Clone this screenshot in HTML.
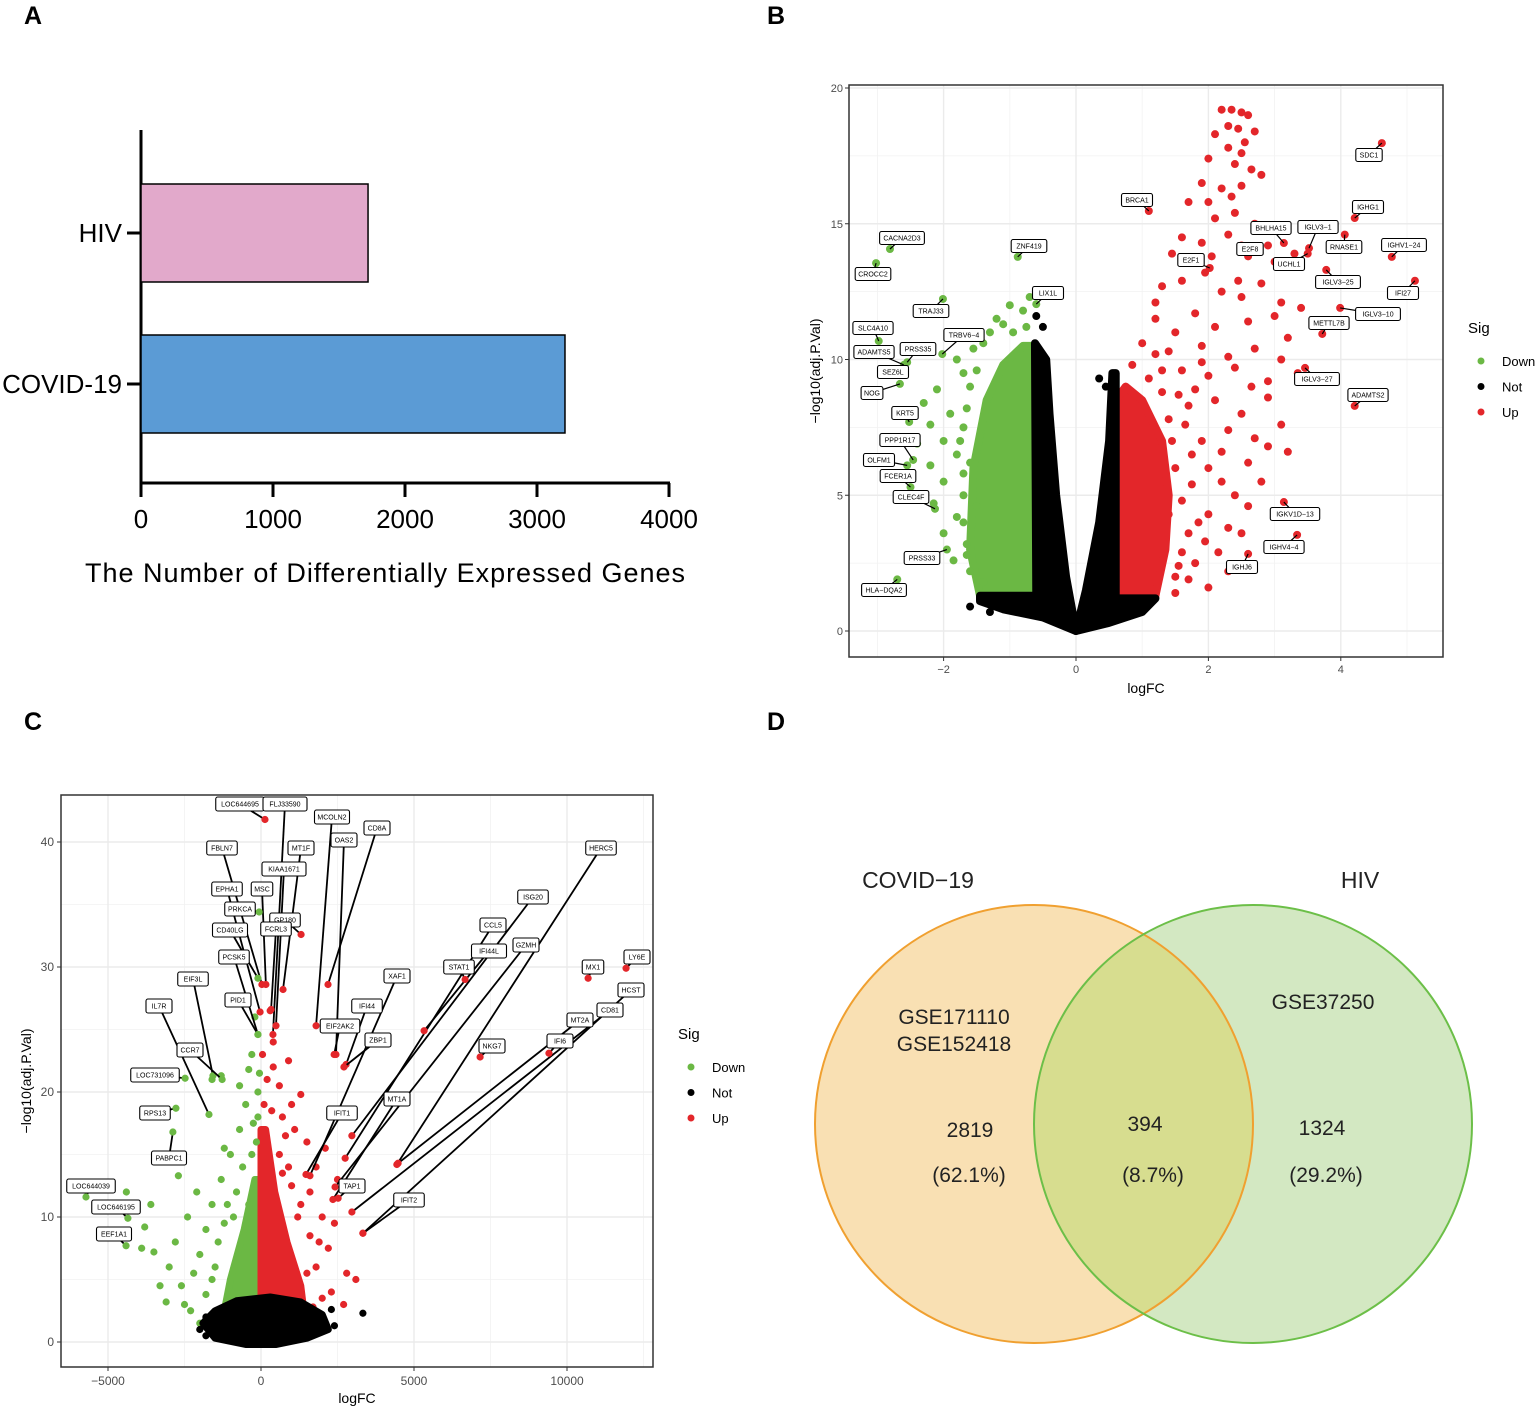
<!DOCTYPE html>
<html><head><meta charset="utf-8"><style>
html,body{margin:0;padding:0;background:#fff;}
svg{display:block;font-family:"Liberation Sans",Arial,sans-serif;}
</style></head><body>
<svg id="fig" width="1535" height="1407" viewBox="0 0 1535 1407" xmlns="http://www.w3.org/2000/svg">
<g font-weight="bold" font-size="25">
<text x="24" y="24">A</text>
<text x="767" y="24">B</text>
<text x="24" y="730">C</text>
<text x="767" y="730">D</text>
</g>
<g id="pA"></g>
<g id="pB"></g>
<g id="pC"></g>
<g id="pD"></g>
</svg>
<script>
// ---------- Panel A data ----------
const barCategories = ["HIV","COVID-19"];
const barValues = [1720, 3212];
const barColors = ["#e2a9cb","#5b9bd5"];
const barTicks = [0,1000,2000,3000,4000];

// ---------- Panel B data ----------
const bXTicks = [-2,0,2,4];
const bYTicks = [0,5,10,15,20];
const bGreenDense = [[-1.45,1.3],[-1.6,3],[-1.55,6],[-1.35,8.5],[-1.1,9.8],[-0.8,10.5],[-0.6,10.5],[-0.6,1.3]];
const bBlackLeft = [[-0.62,10.6],[-0.45,10],[-0.4,8],[-0.3,5],[-0.15,2],[0,0],[-0.5,0.5],[-1.1,0.8],[-1.45,1.1],[-1.45,1.3],[-0.6,1.3]];
const bBlackRight = [[0.55,9.5],[0.5,7],[0.35,4],[0.15,1.5],[0,0],[0.5,0.3],[1.0,0.7],[1.2,1.2],[0.6,1.2],[0.6,9.5]];
const bRedDense = [[0.6,1.3],[1.2,1.3],[1.35,3],[1.4,5],[1.3,7],[1.0,8.5],[0.75,9],[0.6,8.5]];
const bRedPts = [[2.2,19.2],[2.35,19.2],[2.5,19.1],[2.6,19.0],[2.3,18.6],[2.45,18.5],[2.7,18.4],[2.1,18.3],[2.55,18.0],
[2.3,17.8],[2.5,17.6],[2.0,17.4],[2.4,17.2],[2.65,17.0],[1.9,16.5],[2.2,16.3],[2.5,16.4],[2.8,16.8],[2.35,16.0],[2.0,15.8],
[1.7,15.8],[2.1,15.2],[2.4,15.4],[2.7,15.0],[1.6,14.5],[1.9,14.3],[2.3,14.6],[2.9,14.2],[1.45,13.9],[2.6,13.8],[3.0,13.6],[3.3,13.9],[1.95,13.2],
[1.3,12.7],[1.6,12.9],[2.2,12.5],[2.5,12.3],[2.8,12.8],[3.1,12.1],[3.4,11.9],[1.2,11.5],[1.8,11.7],[2.1,11.2],[2.6,11.4],[3.0,11.6],[3.2,10.8],
[1.0,10.6],[1.4,10.3],[1.9,10.5],[2.3,10.1],[2.7,10.4],[3.1,10.0],[0.85,9.8],[1.6,9.6],[2.0,9.4],[2.4,9.7],[2.9,9.2],[3.35,9.5],
[0.9,8.6],[1.3,8.8],[1.7,8.3],[2.1,8.5],[2.5,8.0],[2.9,8.6],[3.1,7.6],[2.3,7.4],[1.9,7.0],[2.7,7.1],[2.2,6.6],[2.6,6.2],[2.9,6.8],[3.2,6.6],[2.0,6.0],
[2.2,5.5],[2.4,5.0],[2.6,4.6],[2.0,4.3],[2.3,3.8],[1.95,3.3],[2.5,3.6],[2.15,2.9],[1.8,2.5],[2.3,2.2],[1.7,1.9],[2.0,1.6],[1.5,1.4],
[1.2,12.1],[1.5,11.0],[1.1,9.3],[1.4,7.8],[1.75,6.5],[1.9,9.9],[2.05,13.8],[2.65,9.0],[2.8,5.5],[2.45,12.9],
[1.5,6.0],[1.6,4.8],[1.7,3.6],[1.55,2.4],[1.45,7.0],[1.65,7.6],[1.75,5.4],[1.85,4.0],[1.6,2.9],[1.3,9.6],[1.55,8.7],[1.8,8.9],[1.4,4.3],[1.5,2.0],[1.2,10.2]];
const bGreenPts = [[-1.8,10.0],[-1.7,9.5],[-2.1,8.9],[-1.6,9.0],[-2.3,8.4],[-1.9,8.0],[-2.2,7.6],[-1.7,7.5],[-2.0,7.0],[-2.4,6.9],[-1.8,6.5],[-2.2,6.1],[-1.6,6.2],[-2.0,5.5],[-1.7,5.0],[-2.15,4.7],[-1.8,4.2],[-2.0,3.6],[-1.65,3.2],[-1.85,2.6],[-1.6,2.2],[-1.4,1.8],[-1.3,11.0],[-1.2,11.5],[-1.0,12.0],[-0.8,11.8],[-1.1,11.3],[-0.7,12.3],[-1.55,10.4],[-1.45,7.2],[-1.5,4.6],
[-1.65,8.2],[-1.75,7.0],[-1.7,5.8],[-1.7,4.0],[-1.65,2.8],[-1.5,9.6],[-1.4,10.6],[-0.95,11.0],[-0.75,11.2]];
const bBlackPts = [[-1.6,0.9],[-1.3,0.7],[-0.6,11.6],[0.35,9.3],[0.45,9.0],[-0.5,11.2],[1.1,1.0]];
const bLabNames = ["SDC1","IGHG1","BRCA1","CACNA2D3","CROCC2","ZNF419","LIX1L","TRAJ33","TRBV6−4","SLC4A10","ADAMTS5","PRSS35","SEZ6L","NOG","KRT5","PPP1R17","OLFM1","FCER1A","CLEC4F","PRSS33","HLA−DQA2","E2F1","BHLHA15","IGLV3−1","E2F8","RNASE1","IGHV1−24","UCHL1","IGLV3−25","IFI27","IGLV3−10","METTL7B","IGLV3−27","ADAMTS2","IGKV1D−13","IGHV4−4","IGHJ6"];
const bLabFC = [4.62,4.21,1.10,-2.81,-3.02,-0.88,-0.60,-2.01,-2.02,-2.98,-2.6,-2.55,-2.6,-2.66,-2.52,-2.46,-2.55,-2.5,-2.13,-1.95,-2.70,2.02,3.14,3.52,2.5,4.06,4.77,3.5,3.78,5.12,3.99,3.72,3.46,4.21,3.14,3.34,2.60];
const bLabP = [17.97,15.21,15.47,14.07,13.55,13.78,12.04,12.23,10.2,10.68,9.8,9.9,9.6,9.1,7.7,6.3,6.1,5.3,4.5,3.0,1.9,13.37,14.29,14.1,14.2,14.6,13.78,13.9,13.3,12.9,11.9,10.94,9.69,8.29,4.75,3.54,2.84];
const bLabPos = [[1369,155],[1368,207],[1137,200],[902,238],[873,274],[1029,246],[1048,293],[931,311],[964,335],[873,328],[874,352],[918,349],[893,372],[872,393],[905,413],[900,440],[879,460],[898,476],[911,497],[922,558],[884,590],[1191,260],[1271,228],[1318,227],[1250,249],[1344,247],[1404,245],[1289,264],[1338,282],[1403,293],[1378,314],[1329,323],[1317,379],[1368,395],[1295,514],[1284,547],[1242,567]];

// ---------- Panel C data ----------
const cXTicks = [-5000,0,5000,10000];
const cYTicks = [0,10,20,30,40];
const cBlackDense = [[-1500,2.5],[-1900,1.5],[-1500,0.3],[-500,-0.2],[500,-0.2],[1500,0.3],[2200,1.0],[2000,2.2],[1300,3.2],[300,3.6],[-800,3.3]];
const cGreenDense = [[0,2.5],[-1200,2.5],[-1000,5],[-550,9],[-200,13],[0,13]];
const cRedDense = [[0,2.5],[0,17],[150,17],[450,12],[850,8],[1300,4.5],[1400,2.5]];
const cGreenPts = [[-2400,10],[-2800,8],[-3000,6],[-3300,4.5],[-2600,4.5],[-2200,5.5],[-2000,7],[-1800,9],[-2100,12],[-1600,11],[-1800,3.8],[-1500,6.0],[-3500,7.2],[-3800,9.2],[-1300,13],[-1000,15],[-700,17],[-500,19],[-2700,13.3],[-4400,12],[-3600,11],[-1300,21.3],[-1600,21.0],[-400,21.8],[-300,23],[-200,26],[-100,18],[-600,14],[-900,10],[-1200,9.5],[-2300,2.5],[-3100,3.2],[-2000,1.5],[-2500,3.0],[-3900,7.5],
[-100,20],[-150,16],[-300,15],[-250,17.5],[-800,12],[-1100,11],[-1400,8],[-1600,5],[-700,20.5],[-50,21.5],[-400,11],[-1200,15.5]];
const cRedPts = [[2000,10],[2500,13],[2800,5.5],[3100,5],[2200,7.5],[1800,14],[1500,16],[1000,19],[600,20.5],[900,22.5],[1300,19.8],[700,18],[2000,3.5],[2700,3],[1100,17],[1600,12],[2100,15.5],[900,14],[1200,10],[1800,6],[2300,4],[1500,5.5],[400,24],[300,26.5],[800,16.5],[2400,9.5],
[100,19],[200,21],[50,23],[350,18.5],[600,15],[1000,12.5],[1300,11],[1600,8.5],[1900,8],[1700,2.8],[400,22],[700,13.5]];
const cBlackPts = [[3330,2.3],[-2000,1],[-1800,2],[2400,1.3],[-1800,0.5],[2300,2.6]];
const cLabNames = ["LOC644695","FLJ33590","MCOLN2","CD8A","OAS2","FBLN7","MT1F","KIAA1671","EPHA1","MSC","PRKCA","GP180","FCRL3","CD40LG","PCSK5","EIF3L","PID1","IL7R","CCR7","LOC731096","RPS13","PABPC1","LOC644039","LOC646195","EEF1A1","XAF1","IFI44","EIF2AK2","ZBP1","ISG20","CCL5","GZMH","IFI44L","STAT1","HERC5","NKG7","MX1","LY6E","HCST","CD81","MT2A","IFI6","IFIT1","MT1A","TAP1","IFIT2"];
const cLabFC = [130,390,1800,2190,2450,30,720,490,-30,160,-60,1310,330,-100,-100,-1570,-100,-1700,-1270,-2480,-2780,-2880,-5720,-4350,-4410,1600,2780,2390,2710,2970,2750,2420,5330,6670,4440,7160,10690,11930,3330,2970,4480,9410,1470,2350,2520,3330];
const cLabP = [41.8,24.6,25.3,28.6,23.0,28.6,28.2,25.3,26.4,28.6,34.4,32.6,26.6,29.1,24.6,21.3,24.6,18.2,21.0,21.1,18.7,16.8,11.6,9.9,7.7,13.3,22.2,23.0,22.0,16.5,14.7,12.4,24.9,29.0,14.2,22.8,29.1,29.9,8.7,10.4,14.3,23.1,13.4,11.4,11.5,8.7];
const cLabGreen = ["PRKCA","CD40LG","PCSK5","EIF3L","PID1","IL7R","CCR7","LOC731096","RPS13","PABPC1","LOC644039","LOC646195","EEF1A1"];
const cLabPos = [[240,804],[285,804],[332,817],[377,828],[344,840],[222,848],[301,848],[284,869],[227,889],[262,889],[240,909],[285,920],[276,929],[230,930],[234,957],[193,979],[238,1000],[159,1006],[190,1050],[155,1075],[155,1113],[169,1158],[91,1186],[116,1207],[114,1234],[397,976],[367,1006],[340,1026],[378,1040],[533,897],[493,925],[526,945],[489,951],[459,967],[601,848],[492,1046],[593,967],[637,957],[631,990],[610,1010],[580,1020],[560,1041],[342,1113],[397,1099],[352,1186],[409,1200]];

// ---------- Panel D data ----------
const vennSets = ["COVID−19","HIV"];
const vennCounts = [2819,394,1324];
const vennPct = ["(62.1%)","(8.7%)","(29.2%)"];

const NS="http://www.w3.org/2000/svg";
function mk(parent,tag,attrs,text){const e=document.createElementNS(NS,tag);for(const k in attrs)e.setAttribute(k,attrs[k]);if(text!==undefined)e.textContent=text;parent.appendChild(e);return e;}

// ===== Panel A =====
(function(){
const g=document.getElementById('pA');
const ax=v=>141+v*0.132;
const rowY=[233,384];
mk(g,'line',{x1:141,y1:130,x2:141,y2:483,stroke:'#000','stroke-width':3});
mk(g,'line',{x1:140,y1:483,x2:670,y2:483,stroke:'#000','stroke-width':3});
barCategories.forEach((c,i)=>{
 const r=mk(g,'rect',{x:ax(0),y:rowY[i]-49,width:ax(barValues[i])-ax(0),height:98,fill:barColors[i],stroke:'#000','stroke-width':1.5});
 
 
 mk(g,'line',{x1:127,y1:rowY[i],x2:141,y2:rowY[i],stroke:'#000','stroke-width':3});
 const t=mk(g,'text',{x:122,y:rowY[i]+9,'text-anchor':'end','font-size':26},c);
 
 
});
barTicks.forEach(v=>{
 mk(g,'line',{x1:ax(v),y1:483,x2:ax(v),y2:497,stroke:'#000','stroke-width':3});
 const t=mk(g,'text',{x:ax(v),y:528,'text-anchor':'middle','font-size':26},String(v));
 
 
});
const tt=mk(g,'text',{x:385,y:582,'text-anchor':'middle','font-size':27,textLength:600},'The Number of Differentially Expressed Genes');


})();

function labelBox(g,cx,cy,name,fs,charW,h){
 const w=name.length*charW+8;
 const gg=mk(g,'g',{});
 
 
 mk(gg,'rect',{x:cx-w/2,y:cy-h/2,width:w,height:h,rx:2,fill:'#fff',stroke:'#000','stroke-width':1.1});
 mk(gg,'text',{x:cx,y:cy+fs*0.36,'text-anchor':'middle','font-size':fs},name);
}
function grid(g,x0,y0,x1,y1,xs,ys,minx,miny){
 minx.forEach(x=>mk(g,'line',{x1:x,y1:y0,x2:x,y2:y1,stroke:'#f2f2f2','stroke-width':0.8}));
 miny.forEach(y=>mk(g,'line',{x1:x0,y1:y,x2:x1,y2:y,stroke:'#f2f2f2','stroke-width':0.8}));
 xs.forEach(x=>mk(g,'line',{x1:x,y1:y0,x2:x,y2:y1,stroke:'#ebebeb','stroke-width':1.4}));
 ys.forEach(y=>mk(g,'line',{x1:x0,y1:y,x2:x1,y2:y,stroke:'#ebebeb','stroke-width':1.4}));
}
function poly(g,arr,fx,fy,col,sw,name){
 const p=mk(g,'polygon',{points:arr.map(d=>fx(d[0])+','+fy(d[1])).join(' '),fill:col,stroke:col,'stroke-width':sw,'stroke-linejoin':'round'});
 
 
}
function dots(g,arr,fx,fy,col,r,name){
 arr.forEach(d=>{const c=mk(g,'circle',{cx:fx(d[0]),cy:fy(d[1]),r:r,fill:col});
 
 });
}
function legend(g,x,y,gap,fs){
 const t=mk(g,'text',{x:x-13,y:y,'font-size':fs+2},'Sig');
 
 
 [['Down','#6bb844'],['Not','#000'],['Up','#e3262a']].forEach((s,i)=>{
  const e=mk(g,'g',{});
  
  
  mk(e,'circle',{cx:x,cy:y+28+i*gap,r:3.5,fill:s[1]});
  mk(e,'text',{x:x+21,y:y+28+i*gap+5,'font-size':fs},s[0]);
 });
}
const GRN='#6bb844',RED='#e3262a';

// ===== Panel B =====
(function(){
const g=document.getElementById('pB');
const bx=v=>1076+v*66.2, by=v=>631-v*27.15;
const X0=849,X1=1443,Y0=85,Y1=657;
grid(g,X0,Y0,X1,Y1,bXTicks.map(bx),bYTicks.map(by),[-3,-1,1,3,5].map(bx),[2.5,7.5,12.5,17.5].map(by));
dots(g,bRedPts,bx,by,RED,4,'up-point');
poly(g,bGreenDense,bx,by,GRN,8,'down-cloud');
poly(g,bRedDense,bx,by,RED,8,'up-cloud');
poly(g,bBlackLeft,bx,by,'#000',8,'not-cloud-left');
poly(g,bBlackRight,bx,by,'#000',8,'not-cloud-right');
dots(g,bGreenPts,bx,by,GRN,4,'down-point');
dots(g,bBlackPts,bx,by,'#000',4,'not-point');
bLabNames.forEach((n,i)=>{
 const px=bx(bLabFC[i]),py=by(bLabP[i]);
 const c=mk(g,'circle',{cx:px,cy:py,r:4,fill:bLabFC[i]<0?GRN:RED});
 
 
 mk(g,'line',{x1:px,y1:py,x2:bLabPos[i][0],y2:bLabPos[i][1],stroke:'#000','stroke-width':1.2});
});
bLabNames.forEach((n,i)=>labelBox(g,bLabPos[i][0],bLabPos[i][1],n,7,4.6,13));
mk(g,'rect',{x:X0,y:Y0,width:X1-X0,height:Y1-Y0,fill:'none',stroke:'#333','stroke-width':1.5});
bXTicks.forEach(v=>{mk(g,'line',{x1:bx(v),y1:Y1,x2:bx(v),y2:Y1+4,stroke:'#333'});
 const t=mk(g,'text',{x:bx(v),y:Y1+16,'text-anchor':'middle','font-size':11,fill:'#4d4d4d'},v<0?'−'+(-v):String(v));
 });
bYTicks.forEach(v=>{mk(g,'line',{x1:X0-4,y1:by(v),x2:X0,y2:by(v),stroke:'#333'});
 const t=mk(g,'text',{x:X0-6,y:by(v)+4,'text-anchor':'end','font-size':11,fill:'#4d4d4d'},String(v));
 });
const xt=mk(g,'text',{x:1146,y:693,'text-anchor':'middle','font-size':14},'logFC');

const yt=mk(g,'text',{x:0,y:0,'text-anchor':'middle','font-size':14,transform:'translate(820,371) rotate(-90)'},'−log10(adj.P.Val)');

legend(g,1481,333,25.5,13);
})();

// ===== Panel C =====
(function(){
const g=document.getElementById('pC');
const cx=v=>261+v*0.0306, cy=v=>1342-v*12.5;
const X0=61,X1=653,Y0=795,Y1=1367;
grid(g,X0,Y0,X1,Y1,cXTicks.map(cx),cYTicks.map(cy),[-2500,2500,7500,12500].map(cx),[5,15,25,35].map(cy));
poly(g,cGreenDense,cx,cy,GRN,7,'down-cloud');
poly(g,cRedDense,cx,cy,RED,7,'up-cloud');
dots(g,cGreenPts,cx,cy,GRN,3.6,'down-point');
dots(g,cRedPts,cx,cy,RED,3.6,'up-point');
poly(g,cBlackDense,cx,cy,'#000',7,'not-cloud');
dots(g,cBlackPts,cx,cy,'#000',3.6,'not-point');
cLabNames.forEach((n,i)=>{
 const px=cx(cLabFC[i]),py=cy(cLabP[i]);
 mk(g,'line',{x1:px,y1:py,x2:cLabPos[i][0],y2:cLabPos[i][1],stroke:'#000','stroke-width':1.8});
 const c=mk(g,'circle',{cx:px,cy:py,r:3.6,fill:cLabGreen.includes(n)?GRN:RED});
 
 
});
cLabNames.forEach((n,i)=>labelBox(g,cLabPos[i][0],cLabPos[i][1],n,7,4.5,14));
mk(g,'rect',{x:X0,y:Y0,width:X1-X0,height:Y1-Y0,fill:'none',stroke:'#333','stroke-width':1.5});
cXTicks.forEach(v=>{mk(g,'line',{x1:cx(v),y1:Y1,x2:cx(v),y2:Y1+4,stroke:'#333'});
 const t=mk(g,'text',{x:cx(v),y:Y1+18,'text-anchor':'middle','font-size':12,fill:'#4d4d4d'},v<0?'−'+(-v):String(v));
 });
cYTicks.forEach(v=>{mk(g,'line',{x1:X0-4,y1:cy(v),x2:X0,y2:cy(v),stroke:'#333'});
 const t=mk(g,'text',{x:X0-7,y:cy(v)+4,'text-anchor':'end','font-size':12,fill:'#4d4d4d'},String(v));
 });
const xt=mk(g,'text',{x:357,y:1403,'text-anchor':'middle','font-size':14},'logFC');

const yt=mk(g,'text',{x:0,y:0,'text-anchor':'middle','font-size':14,transform:'translate(31,1081) rotate(-90)'},'−log10(adj.P.Val)');

legend(g,691,1039,25.5,13);
})();

// ===== Panel D =====
(function(){
const g=document.getElementById('pD');
const defs=mk(g,'defs',{});
const cp=mk(defs,'clipPath',{id:'clipL'});
mk(cp,'circle',{cx:1034,cy:1124,r:219});
const cl=mk(g,'circle',{cx:1034,cy:1124,r:219,fill:'#f9e0b3'});

const cr=mk(g,'circle',{cx:1253,cy:1124,r:219,fill:'#d3e8c2'});

const ov=mk(g,'circle',{cx:1253,cy:1124,r:219,fill:'#d7dd8f','clip-path':'url(#clipL)'});

mk(g,'circle',{cx:1034,cy:1124,r:219,fill:'none',stroke:'#f0a030','stroke-width':2});
mk(g,'circle',{cx:1253,cy:1124,r:219,fill:'none',stroke:'#6cbf48','stroke-width':2});
const T=(x,y,s,fs,n)=>{const t=mk(g,'text',{x:x,y:y,'text-anchor':'middle','font-size':fs,fill:'#222'},s);};
T(918,888,vennSets[0],23,'set-label-covid');
T(1360,888,vennSets[1],23,'set-label-hiv');
T(954,1024,'GSE171110',21,'dataset-label');
T(954,1051,'GSE152418',21,'dataset-label');
T(1323,1009,'GSE37250',21,'dataset-label');
const cxs=[970,1145,1322],cys=[1137,1131,1135],pxs=[969,1153,1326];
vennCounts.forEach((v,i)=>{T(cxs[i],cys[i],String(v),21,'venn-count');T(pxs[i],1182,vennPct[i],21,'venn-percent');});
})();
</script>
</body></html>
